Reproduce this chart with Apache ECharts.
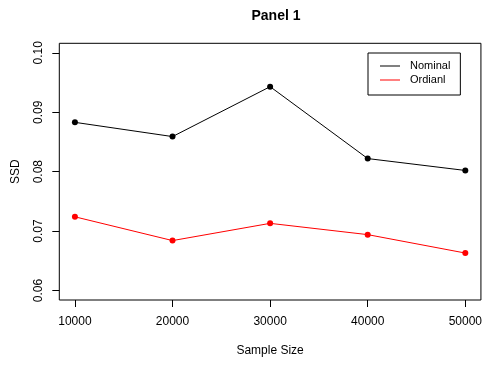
<!DOCTYPE html>
<html><head><meta charset="utf-8">
<script src="https://cdn.jsdelivr.net/npm/echarts@6/dist/echarts.min.js"></script>
<style>html,body{margin:0;padding:0;background:#fff}#c{width:485px;height:365px}</style>
</head><body><div id="c"></div>
<script>
var sampleSizes = [10000, 20000, 30000, 40000, 50000];
var nominal = [0.0883, 0.0859, 0.0943, 0.0822, 0.0802];
var ordinal = [0.0724, 0.0684, 0.0713, 0.0694, 0.0663];
var xTicks = [10000, 20000, 30000, 40000, 50000];
var yTicks = [0.06, 0.07, 0.08, 0.09, 0.10];
var seriesNames = ['Nominal', 'Ordianl'];

function pairs(xs, ys){ return xs.map(function(x,i){ return [x, ys[i]]; }); }

var font = 'Liberation Sans, Arial, sans-serif';
var chart = echarts.init(document.getElementById('c'), null, {renderer:'canvas'});
chart.setOption({
  animation: false,
  backgroundColor: '#fff',
  title: {
    text: 'Panel 1', left: 271, top: 4, textAlign: 'center',
    textStyle: {fontFamily: font, fontSize: 14, fontWeight: 'bold', color: '#000'}
  },
  grid: {
    left: 59.3, right: 2.3, top: 43.3, bottom: 65,
    show: true, borderColor: '#000', borderWidth: 1, backgroundColor: 'transparent'
  },
  legend: {
    left: 368, top: 53, orient: 'vertical',
    data: [{name: seriesNames[0], icon: 'rect'}, {name: seriesNames[1], icon: 'rect'}],
    itemWidth: 20, itemHeight: 1, itemGap: 0,
    padding: [6, 10, 8, 12],
    borderColor: '#000', borderWidth: 1, borderRadius: 0,
    textStyle: {fontFamily: font, fontSize: 11, color: '#000', lineHeight: 14, padding: [0,0,0,5]}
  },
  xAxis: {
    type: 'value', min: 8400, max: 51600,
    name: 'Sample Size', nameLocation: 'middle', nameGap: 45,
    nameTextStyle: {fontFamily: font, fontSize: 12, color: '#000'},
    axisLine: {show: false},
    axisTick: {show: true, inside: false, length: 7, lineStyle: {color: '#000'}, customValues: xTicks},
    axisLabel: {fontFamily: font, fontSize: 12, color: '#000', margin: 16, customValues: xTicks,
      formatter: function(v){ return String(v); }},
    splitLine: {show: false}
  },
  yAxis: {
    type: 'value', min: 0.0584, max: 0.1016,
    name: 'SSD', nameLocation: 'middle', nameGap: 38, nameRotate: 90,
    nameTextStyle: {fontFamily: font, fontSize: 12, color: '#000'},
    axisLine: {show: false},
    axisTick: {show: true, inside: false, length: 7, lineStyle: {color: '#000'}, customValues: yTicks},
    axisLabel: {fontFamily: font, fontSize: 12, color: '#000', rotate: 90, margin: 15, customValues: yTicks,
      formatter: function(v){ return v.toFixed(2); }},
    splitLine: {show: false}
  },
  series: [
    {name: seriesNames[0], type: 'line', data: pairs(sampleSizes, nominal),
     symbol: 'circle', symbolSize: 6, color: '#000',
     lineStyle: {color: '#000', width: 1}, itemStyle: {color: '#000'}},
    {name: seriesNames[1], type: 'line', data: pairs(sampleSizes, ordinal),
     symbol: 'circle', symbolSize: 6, color: '#ff0000',
     lineStyle: {color: '#ff0000', width: 1}, itemStyle: {color: '#ff0000'}}
  ]
});
</script></body></html>
